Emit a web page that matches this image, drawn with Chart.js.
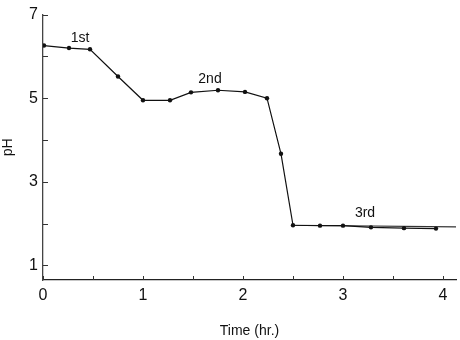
<!DOCTYPE html>
<html>
<head>
<meta charset="utf-8">
<script src="https://cdn.jsdelivr.net/npm/chart.js@4/dist/chart.umd.min.js"></script>
<style>
  html, body { margin: 0; padding: 0; background: #fff; }
  #wrap { width: 460px; height: 340px; position: relative; }
</style>
</head>
<body>
<div id="wrap"><canvas id="chartPh"></canvas></div>
<script>
  // dados
  const timeHr = [0.01, 0.26, 0.47, 0.75, 1.0, 1.27, 1.48, 1.75, 2.02, 2.24, 2.38, 2.5, 2.77, 3.0, 3.28, 3.61, 3.93];
  const phValues = [6.26, 6.2, 6.17, 5.52, 4.95, 4.95, 5.14, 5.19, 5.15, 5.0, 3.67, 1.96, 1.95, 1.95, 1.91, 1.89, 1.88];
  // linha da 3a fase, prolongada até à borda
  const fitX = [2.5, 4.13];
  const fitY = [1.96, 1.92];
  const xTicks = [0, 0.5, 1, 1.5, 2, 2.5, 3, 3.5, 4];
  const yTicks = [1, 2, 3, 4, 5, 6, 7];
  const stageNames = ['1st', '2nd', '3rd'];
  const stageX = [0.37, 1.67, 3.22];
  const stageY = [6.43, 5.45, 2.26];

  const FONT = 'Liberation Sans, Arial, sans-serif';

  // ticks para dentro + rótulos das fases
  const extras = {
    id: 'extras',
    afterDraw(chart) {
      const ctx = chart.ctx;
      const xs = chart.scales.x, ys = chart.scales.y;
      const area = chart.chartArea;
      ctx.save();
      ctx.strokeStyle = '#333';
      ctx.lineWidth = 1;
      ctx.beginPath();
      xTicks.forEach(v => {
        const px = Math.round(xs.getPixelForValue(v)) + 0.5;
        ctx.moveTo(px, area.bottom);
        ctx.lineTo(px, area.bottom - 4);
      });
      yTicks.forEach(v => {
        const py = Math.round(ys.getPixelForValue(v)) + 0.5;
        ctx.moveTo(area.left, py);
        ctx.lineTo(area.left + 5, py);
      });
      ctx.stroke();

      ctx.fillStyle = '#111';
      ctx.font = '14px ' + FONT;
      ctx.textAlign = 'center';
      ctx.textBaseline = 'middle';
      stageNames.forEach((s, i) => {
        ctx.fillText(s, xs.getPixelForValue(stageX[i]), ys.getPixelForValue(stageY[i]));
      });
      ctx.restore();
    }
  };

  new Chart(document.getElementById('chartPh'), {
    type: 'line',
    data: {
      datasets: [{
        data: timeHr.map((t, i) => ({ x: t, y: phValues[i] })),
        borderColor: '#111',
        borderWidth: 1.2,
        backgroundColor: '#111',
        pointRadius: 2.2,
        pointBorderWidth: 0,
        tension: 0,
        fill: false
      }, {
        data: fitX.map((t, i) => ({ x: t, y: fitY[i] })),
        borderColor: '#333',
        borderWidth: 1.2,
        pointRadius: 0,
        tension: 0,
        fill: false
      }]
    },
    options: {
      responsive: true,
      maintainAspectRatio: false,
      animation: false,
      layout: { padding: { top: 13, right: 0, left: 0, bottom: 0 } },
      plugins: { legend: { display: false }, tooltip: { enabled: false } },
      scales: {
        x: {
          type: 'linear',
          min: 0,
          max: 4.13,
          afterBuildTicks: s => { s.ticks = xTicks.map(v => ({ value: v })); },
          afterFit: s => { s.height = 60; },
          grid: { display: false, drawTicks: false },
          border: { display: true, color: '#222', width: 1.3 },
          ticks: {
            padding: 6,
            color: '#111',
            font: { family: FONT, size: 16 },
            autoSkip: false,
            maxRotation: 0,
            callback: v => Number.isInteger(v) ? String(v) : ''
          },
          title: {
            display: true,
            text: 'Time (hr.)',
            color: '#111',
            font: { family: FONT, size: 14 },
            padding: { top: 8, bottom: 0 }
          }
        },
        y: {
          min: 0.65,
          max: 7,
          afterBuildTicks: s => { s.ticks = yTicks.map(v => ({ value: v })); },
          afterFit: s => { s.width = 43; },
          grid: { display: false, drawTicks: false },
          border: { display: true, color: '#444', width: 1.3 },
          ticks: {
            padding: 5,
            color: '#111',
            font: { family: FONT, size: 16 },
            autoSkip: false,
            callback: v => (v % 2 === 1) ? String(v) : ''
          },
          title: {
            display: true,
            text: 'pH',
            color: '#111',
            font: { family: FONT, size: 14 },
            padding: { top: 0, bottom: 0 }
          }
        }
      }
    },
    plugins: [extras]
  });
</script>
</body>
</html>
